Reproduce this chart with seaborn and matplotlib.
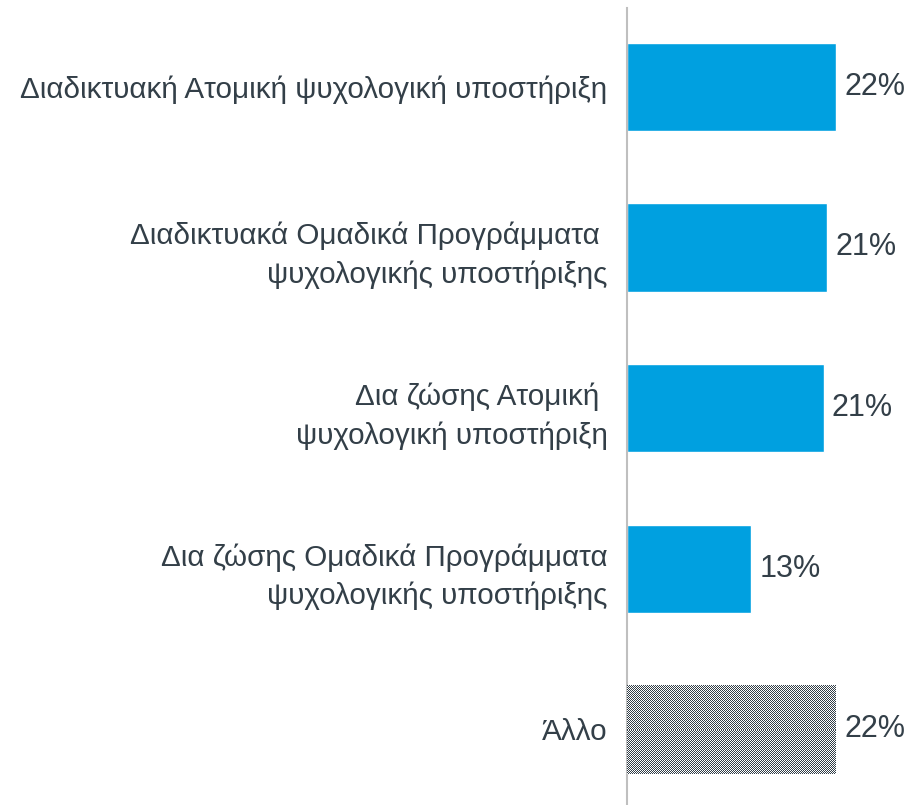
import numpy as np
import pandas as pd
import matplotlib
matplotlib.use('Agg')
import matplotlib.pyplot as plt
import seaborn as sns

# Data
categories = [
    "Διαδικτυακή Ατομική ψυχολογική υποστήριξη",
    "Διαδικτυακά Ομαδικά Προγράμματα \nψυχολογικής υποστήριξης",
    "Δια ζώσης Ατομική \nψυχολογική υποστήριξη",
    "Δια ζώσης Ομαδικά Προγράμματα\nψυχολογικής υποστήριξης",
    "Άλλο",
]
values = [22.0, 21.1, 20.7, 13.1, 22.0]
value_labels = ["22%", "21%", "21%", "13%", "22%"]

BLUE = "#00A0E0"
TEXT = "#333F48"

sns.set_style("white")
plt.rcParams['font.family'] = ['Liberation Sans', 'DejaVu Sans']

df = pd.DataFrame({"category": categories, "value": values})

fig = plt.figure(figsize=(9.13, 8.05), dpi=100)
ax = fig.add_axes([627 / 913, 0.0, 280 / 913, 797 / 805])

sns.barplot(data=df, x="value", y="category", color=BLUE, width=0.55,
            saturation=1, ax=ax)

ax.set_xlim(0, 22 * 280 / 209)
ax.set_ylim(4.47, -0.49)

# checkerboard texture for the "Other" bar, one cell per pixel
other = ax.patches[-1]
other.set_facecolor("white")
bb = other.get_bbox()
(px0, py0), (px1, py1) = ax.transData.transform([[bb.x0, bb.y0], [bb.x1, bb.y1]])
w_px, h_px = int(round(abs(px1 - px0))), int(round(abs(py1 - py0)))
checker = np.indices((h_px, w_px)).sum(axis=0) % 2
img = ax.imshow(checker, cmap=matplotlib.colors.ListedColormap([TEXT, "white"]),
                extent=[bb.x0, bb.x1, bb.y1, bb.y0], aspect="auto",
                interpolation="none", zorder=3)
img.set_clip_path(other)

ax.bar_label(ax.containers[0], labels=value_labels, padding=6,
             fontsize=22, color=TEXT)

ax.set_xlabel("")
ax.set_ylabel("")
ax.set_xticks([])
ax.tick_params(axis="y", length=0, pad=14, labelsize=21.3, labelcolor=TEXT)
for lab in ax.get_yticklabels():
    lab.set_linespacing(1.45)
for s in ["top", "right", "bottom"]:
    ax.spines[s].set_visible(False)
ax.spines["left"].set_color("#BFBFBF")
ax.spines["left"].set_linewidth(1.5)

fig.savefig("out.png", dpi=100)
plt.close(fig)
